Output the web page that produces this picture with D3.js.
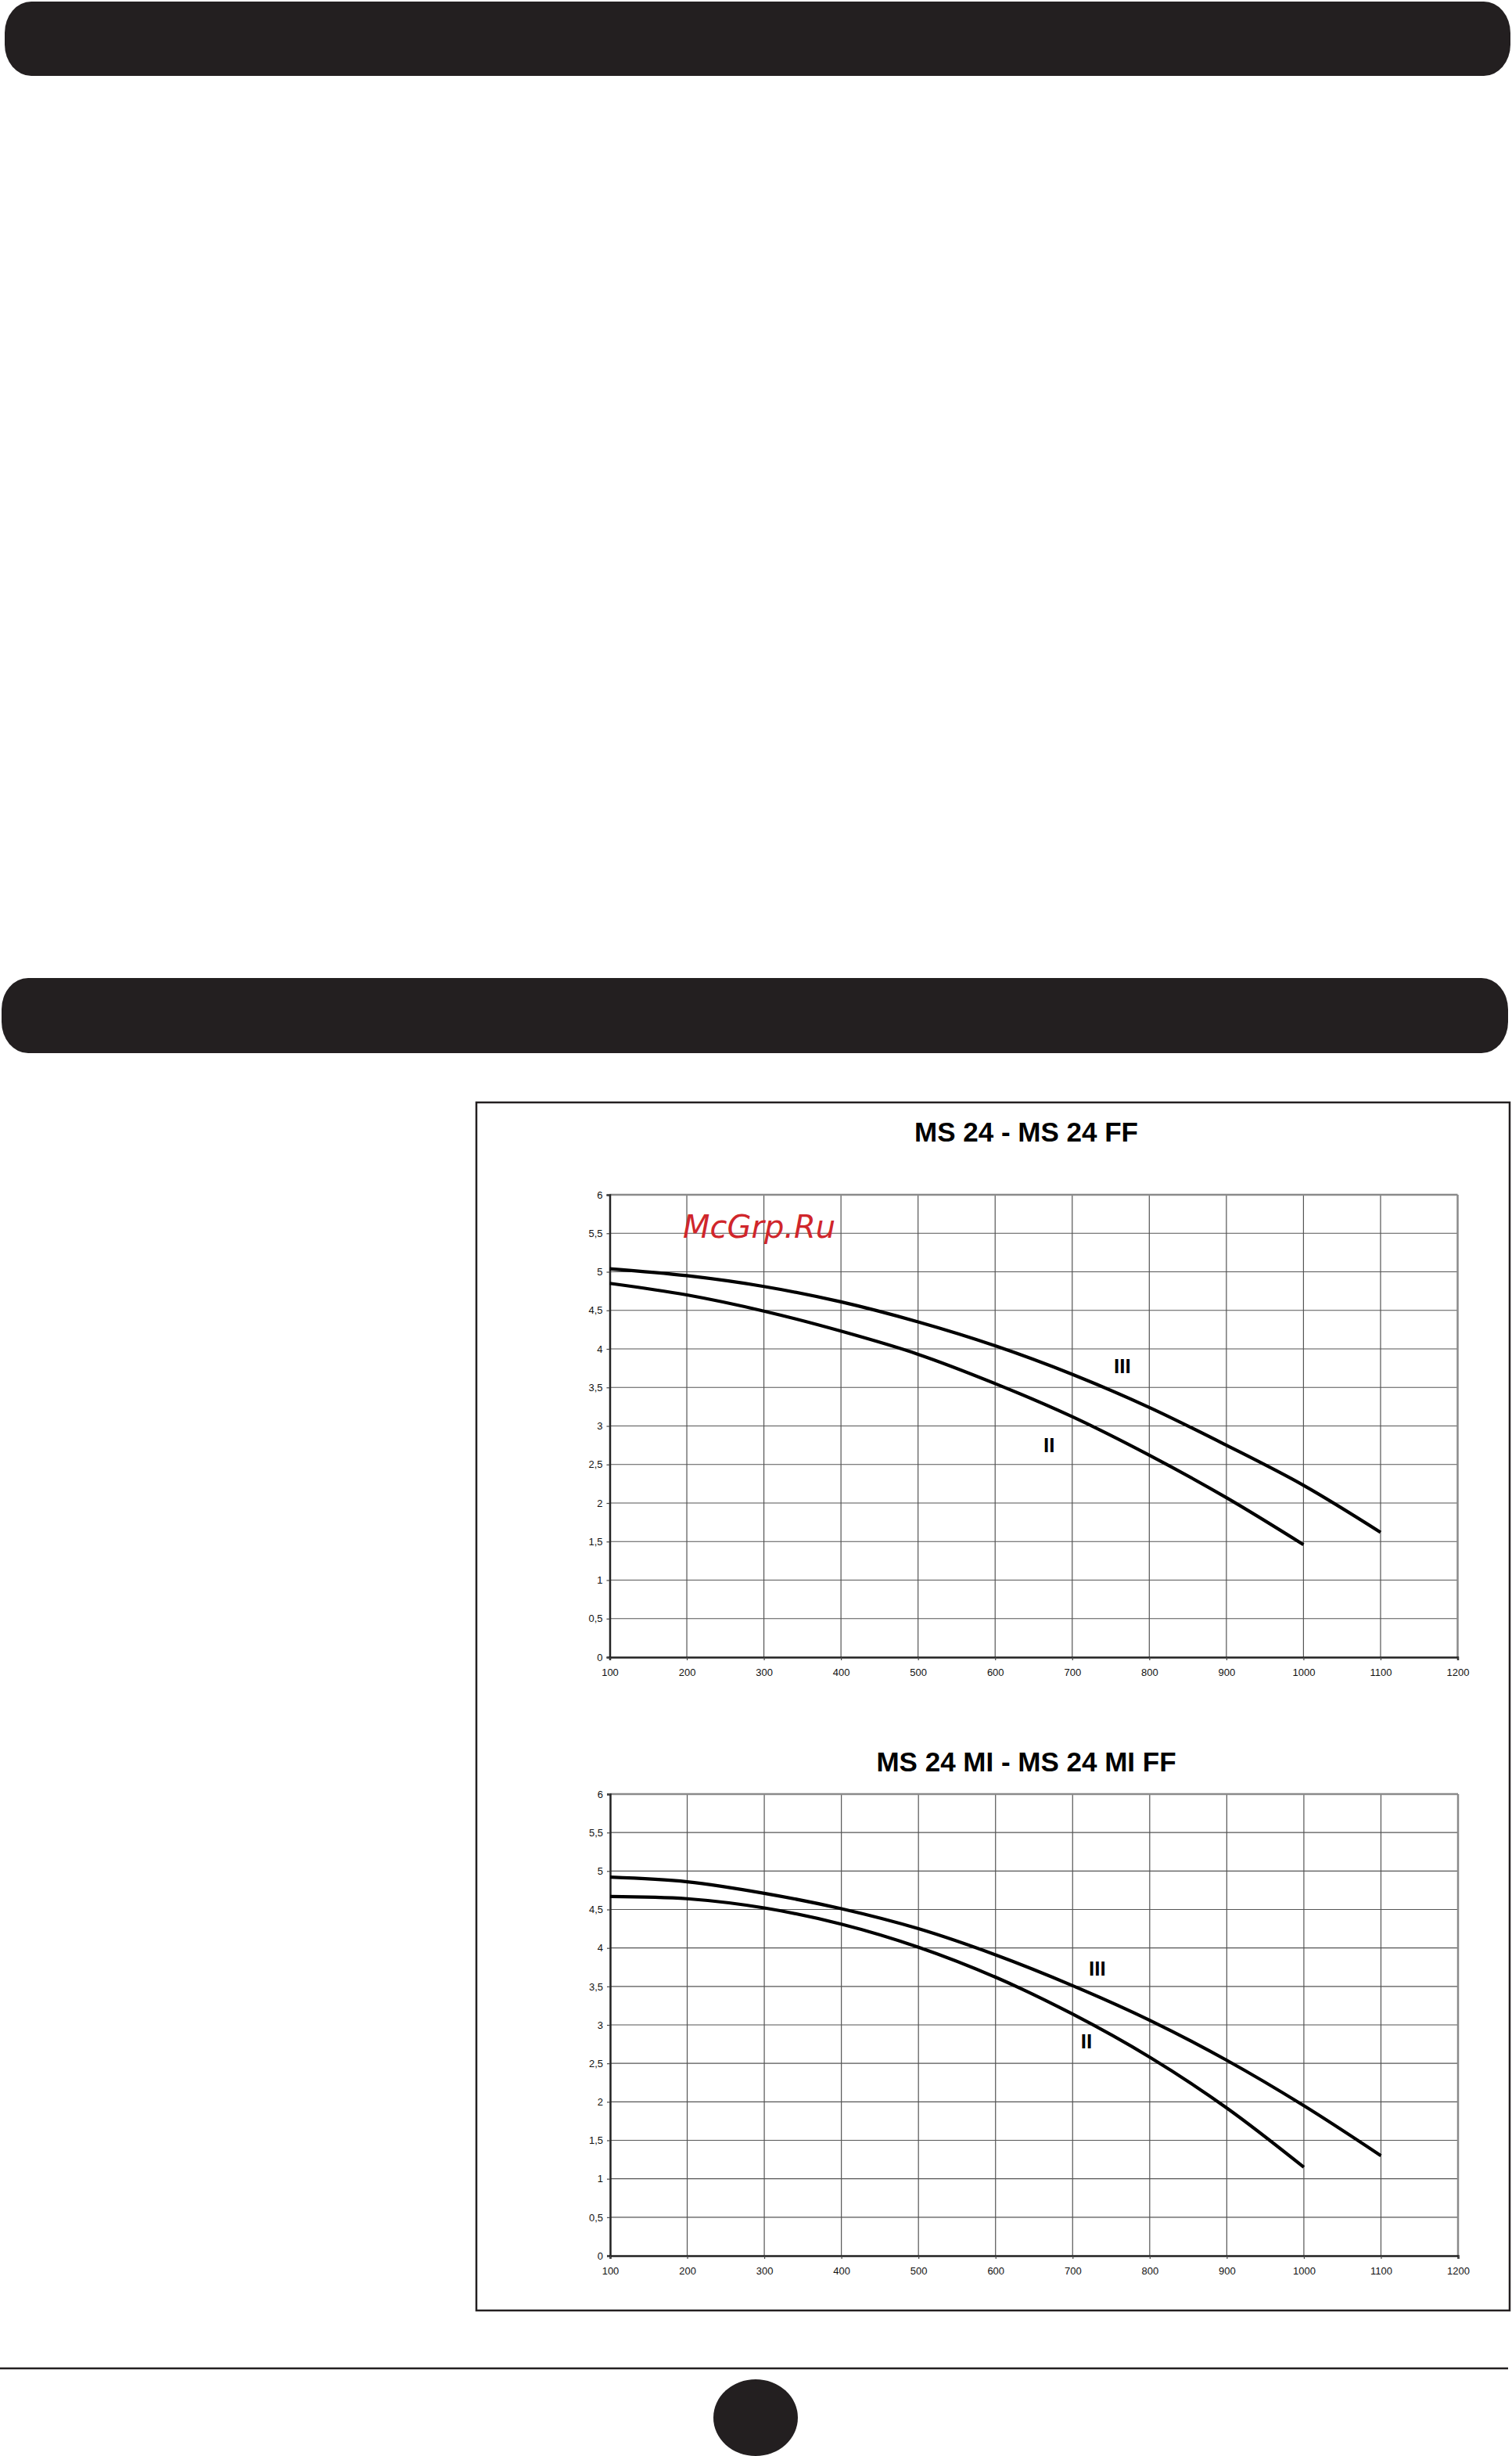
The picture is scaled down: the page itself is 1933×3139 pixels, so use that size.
<!DOCTYPE html>
<html>
<head>
<meta charset="utf-8">
<script src="https://cdn.jsdelivr.net/npm/d3@7"></script>
<style>
  html, body { margin: 0; padding: 0; background: #fff; }
  svg { display: block; }
</style>
</head>
<body>
<script>
// ---------- DATA ----------
const flowTicks = [100, 200, 300, 400, 500, 600, 700, 800, 900, 1000, 1100, 1200];
const headTicks = [0, 0.5, 1, 1.5, 2, 2.5, 3, 3.5, 4, 4.5, 5, 5.5, 6];
const flowIII = [100, 200, 300, 400, 500, 600, 700, 800, 900, 1000, 1100];
const flowII  = [100, 200, 300, 400, 500, 600, 700, 800, 900, 1000];

const titles = ["MS 24 - MS 24 FF", "MS 24 MI - MS 24 MI FF"];

const chart1III = [5.04, 4.95, 4.81, 4.61, 4.35, 4.04, 3.67, 3.24, 2.75, 2.23, 1.62];
const chart1II  = [4.85, 4.70, 4.49, 4.23, 3.93, 3.55, 3.12, 2.62, 2.07, 1.46];
const chart2III = [4.92, 4.86, 4.71, 4.51, 4.25, 3.91, 3.51, 3.06, 2.54, 1.95, 1.30];
const chart2II  = [4.67, 4.64, 4.52, 4.31, 4.01, 3.62, 3.14, 2.58, 1.92, 1.15];

// curve label anchors (data coordinates: flow, head)
const chart1Labels = [{t: "III", x: 765, y: 3.78}, {t: "II", x: 670, y: 2.75}];
const chart2Labels = [{t: "III", x: 732, y: 3.73}, {t: "II", x: 718, y: 2.79}];

// ---------- DRAW ----------
const W = 1933, H = 3139;
const dark = "#231f20";
const svg = d3.select("body").append("svg").attr("width", W).attr("height", H);

// header bars
svg.append("rect").attr("x", 6).attr("y", 2).attr("width", 1925).attr("height", 95)
  .attr("rx", 34).attr("ry", 40).attr("fill", dark);
svg.append("rect").attr("x", 2).attr("y", 1250).attr("width", 1926).attr("height", 96)
  .attr("rx", 34).attr("ry", 40).attr("fill", dark);

// chart frame
svg.append("rect").attr("x", 609).attr("y", 1409).attr("width", 1321).attr("height", 1544)
  .attr("fill", "none").attr("stroke", dark).attr("stroke-width", 2.5);

// bottom rule and page ellipse
svg.append("line").attr("x1", 0).attr("x2", 1928).attr("y1", 3027).attr("y2", 3027)
  .attr("stroke", dark).attr("stroke-width", 2.5);
svg.append("ellipse").attr("cx", 966).attr("cy", 3090).attr("rx", 54).attr("ry", 49)
  .attr("fill", dark);

const fmt = v => String(v).replace(".", ",");

function drawChart(cfg) {
  const x = d3.scaleLinear().domain([100, 1200]).range([cfg.left, cfg.left + 1084]);
  const y = d3.scaleLinear().domain([0, 6]).range([cfg.top + cfg.h, cfg.top]);
  const g = svg.append("g");

  // title
  g.append("text").attr("x", 1312).attr("y", cfg.titleY)
    .attr("text-anchor", "middle")
    .style("font-family", "'Liberation Sans', Arial, sans-serif")
    .style("font-weight", "bold").style("font-size", "35px")
    .attr("fill", "#000").text(cfg.title);

  // grid
  g.append("g").selectAll("line").data(headTicks.slice(1, -1)).join("line")
    .attr("x1", x(100)).attr("x2", x(1200)).attr("y1", d => y(d)).attr("y2", d => y(d))
    .attr("stroke", "#555").attr("stroke-width", 1.2);
  g.append("g").selectAll("line").data(flowTicks.slice(1, -1)).join("line")
    .attr("y1", y(0)).attr("y2", y(6)).attr("x1", d => x(d)).attr("x2", d => x(d))
    .attr("stroke", "#555").attr("stroke-width", 1.2);

  // top / right border (gray)
  g.append("line").attr("x1", x(100)).attr("x2", x(1200)).attr("y1", y(6)).attr("y2", y(6))
    .attr("stroke", "#8a8a8a").attr("stroke-width", 2.5);
  g.append("line").attr("x1", x(1200)).attr("x2", x(1200)).attr("y1", y(6)).attr("y2", y(0))
    .attr("stroke", "#8a8a8a").attr("stroke-width", 2.5);

  // axes
  const yAxis = d3.axisLeft(y).tickValues(headTicks).tickFormat(fmt).tickSize(4).tickPadding(5);
  const xAxis = d3.axisBottom(x).tickValues(flowTicks).tickFormat(d3.format("d")).tickSize(4).tickPadding(11);
  const ya = g.append("g").attr("transform", `translate(${x(100)},0)`).call(yAxis);
  const xa = g.append("g").attr("transform", `translate(0,${y(0)})`).call(xAxis);
  [ya, xa].forEach(a => {
    a.select(".domain").attr("stroke", "#222").attr("stroke-width", 2.5);
    a.selectAll(".tick line").attr("stroke", "#444").attr("stroke-width", 1.2);
    a.selectAll(".tick text")
      .style("font-family", "'Liberation Sans', Arial, sans-serif")
      .style("font-size", "13px").attr("fill", "#111");
  });

  // curves
  const line = d3.line().x(d => x(d[0])).y(d => y(d[1])).curve(d3.curveCatmullRom.alpha(0.5));
  cfg.series.forEach(s => {
    g.append("path").datum(d3.zip(s.flow, s.head)).attr("d", line)
      .attr("fill", "none").attr("stroke", "#000").attr("stroke-width", 4.2)
      .attr("stroke-linejoin", "round");
  });

  // curve labels
  g.selectAll("text.lbl").data(cfg.labels).join("text").attr("class", "lbl")
    .attr("x", d => x(d.x)).attr("y", d => y(d.y))
    .attr("text-anchor", "middle").attr("dominant-baseline", "central")
    .style("font-family", "'Liberation Sans', Arial, sans-serif")
    .style("font-weight", "bold").style("font-size", "26px")
    .attr("fill", "#000").text(d => d.t);

  return {x, y};
}

drawChart({
  top: 1527, h: 591, left: 779.5, titleY: 1458.5, title: titles[0],
  series: [{flow: flowIII, head: chart1III}, {flow: flowII, head: chart1II}],
  labels: chart1Labels
});
drawChart({
  top: 2293, h: 590, left: 780, titleY: 2263.5, title: titles[1],
  series: [{flow: flowIII, head: chart2III}, {flow: flowII, head: chart2II}],
  labels: chart2Labels
});

// watermark
svg.append("text").attr("x", 873).attr("y", 1582)
  .style("font-family", "'DejaVu Sans', sans-serif")
  .style("font-style", "oblique").style("font-size", "40px")
  .attr("fill", "#d0262b").text("McGrp.Ru");
</script>
</body>
</html>
